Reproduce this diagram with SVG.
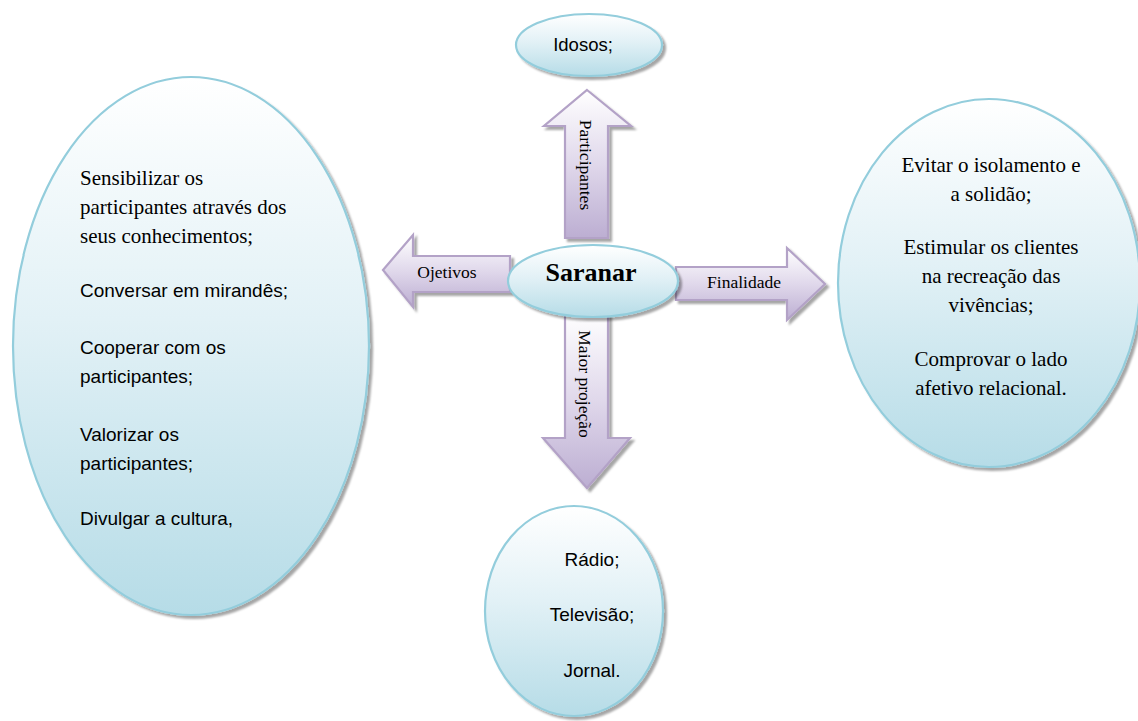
<svg xmlns="http://www.w3.org/2000/svg" width="1138" height="721" viewBox="0 0 1138 721">
<defs>
<linearGradient id="gBlue" x1="0" y1="0" x2="0" y2="1">
<stop offset="0" stop-color="#ffffff"/>
<stop offset="0.45" stop-color="#e2f1f6"/>
<stop offset="1" stop-color="#b6dce7"/>
</linearGradient>
<linearGradient id="gPurple" x1="0" y1="0" x2="0" y2="1">
<stop offset="0" stop-color="#ffffff"/>
<stop offset="0.5" stop-color="#e0d8eb"/>
<stop offset="1" stop-color="#bcaed2"/>
</linearGradient>
<filter id="sh" x="-10%" y="-10%" width="125%" height="125%">
<feDropShadow dx="3" dy="3" stdDeviation="1.2" flood-color="#000" flood-opacity="0.35"/>
</filter>
</defs>
<style>
.ell{fill:url(#gBlue);stroke:#93cddc;stroke-width:2.2;filter:url(#sh)}
.arr{fill:url(#gPurple);stroke:#b3a2c7;stroke-width:2.2;stroke-linejoin:miter;filter:url(#sh)}
.serif{font-family:"Liberation Serif","Times New Roman",serif;fill:#000}
.sans{font-family:"Liberation Sans",Arial,sans-serif;fill:#000}
</style>
<rect width="1138" height="721" fill="#ffffff"/>

<g id="connectors">
<g id="arrow-participantes">
<path class="arr" d="M587,90 L631,126 L608,126 L608,238 L565,238 L565,126 L544,126 Z"/>
<text class="serif" font-size="17.5" text-anchor="middle" transform="translate(580,165) rotate(90)">Participantes</text>
</g>
<g id="arrow-maior">
<path class="arr" d="M565,312 L608,312 L608,438 L630,438 L587,488 L543,438 L565,438 Z"/>
<text class="serif" font-size="17.5" text-anchor="middle" transform="translate(579,384) rotate(90)">Maior projeção</text>
</g>
<g id="arrow-ojetivos">
<path class="arr" d="M383,270 L413,235 L413,256 L510,256 L510,292 L413,292 L413,307 Z"/>
<text class="serif" font-size="17.5" x="447" y="278" text-anchor="middle">Ojetivos</text>
</g>
<g id="arrow-finalidade">
<path class="arr" d="M676,267 L787,267 L787,248 L825,284 L787,320 L787,300 L676,300 Z"/>
<text class="serif" font-size="17.5" x="744" y="288" text-anchor="middle">Finalidade</text>
</g>
</g>

<g id="node-idosos">
<ellipse class="ell" cx="589" cy="45" rx="73" ry="31"/>
<text class="sans" font-size="18.5" x="583" y="51" text-anchor="middle">Idosos;</text>
</g>

<g id="node-saranar">
<ellipse class="ell" cx="593" cy="281" rx="85" ry="36"/>
<text class="serif" font-size="26" font-weight="bold" x="591" y="281" text-anchor="middle">Saranar</text>
</g>

<g id="node-objetivos">
<ellipse class="ell" cx="191" cy="346" rx="178" ry="269"/>
<text class="serif" font-size="21" x="80" y="185">Sensibilizar os</text>
<text class="serif" font-size="21" x="80" y="214">participantes através dos</text>
<text class="serif" font-size="21" x="80" y="243">seus conhecimentos;</text>
<text class="sans" font-size="19" x="80" y="297">Conversar em mirandês;</text>
<text class="sans" font-size="19" x="80" y="354">Cooperar com os</text>
<text class="sans" font-size="19" x="80" y="383">participantes;</text>
<text class="sans" font-size="19" x="80" y="441">Valorizar os</text>
<text class="sans" font-size="19" x="80" y="470">participantes;</text>
<text class="sans" font-size="19" x="80" y="525">Divulgar a cultura,</text>
</g>

<g id="node-finalidade">
<ellipse class="ell" cx="989" cy="283" rx="151" ry="184"/>
<g class="serif" font-size="21" text-anchor="middle">
<text x="991" y="172">Evitar o isolamento e</text>
<text x="991" y="201">a solidão;</text>
<text x="991" y="254">Estimular os clientes</text>
<text x="991" y="283">na recreação das</text>
<text x="991" y="312">vivências;</text>
<text x="991" y="366">Comprovar o lado</text>
<text x="991" y="395">afetivo relacional.</text>
</g>
</g>

<g id="node-media">
<ellipse class="ell" cx="574" cy="611" rx="89" ry="105"/>
<g class="sans" font-size="19" text-anchor="middle">
<text x="592" y="566">Rádio;</text>
<text x="592" y="621">Televisão;</text>
<text x="592" y="677">Jornal.</text>
</g>
</g>
</svg>
